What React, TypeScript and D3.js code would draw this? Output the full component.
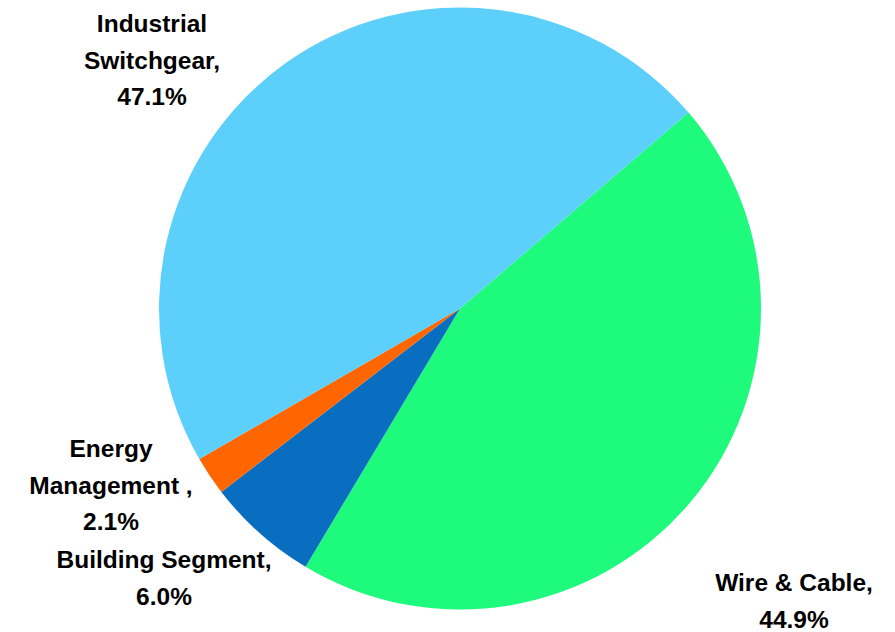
import React from "react";
import * as d3 from "d3";

const categories = ["Wire & Cable", "Building Segment", "Energy Management ", "Industrial Switchgear"];
const shares = [44.9, 6.0, 2.1, 47.1];
const colors = ["#1EFA7C", "#0A6EC0", "#FF6600", "#5CD0FA"];
// label lines and layout (anchor center x, first baseline y)
const labelLines = [
  ["Wire & Cable,", "44.9%"],
  ["Building Segment,", "6.0%"],
  ["Energy", "Management ,", "2.1%"],
  ["Industrial", "Switchgear,", "47.1%"],
];
const labelPos = [
  [794, 591],
  [164, 568],
  [111, 457],
  [152, 32],
];

const W = 895;
const H = 632;
const cx = 460;
const cy = 308.5;
const R = 301;
const startDeg = 49.4;

export default function App() {
  const data = categories.map((c, i) => ({ c, v: shares[i], i }));
  const total = d3.sum(shares);
  const start = (startDeg * Math.PI) / 180;
  const pie = d3
    .pie<any>()
    .value((d) => d.v)
    .sort(null)
    .startAngle(start)
    .endAngle(start + 2 * Math.PI * (total / 100));
  const arc = d3.arc<any>().innerRadius(0).outerRadius(R);
  const arcs = pie(data);
  return (
    <svg width={W} height={H} style={{ position: "absolute", left: 0, top: 0 }}>
      <rect width={W} height={H} fill="#fff" />
      <g transform={`translate(${cx},${cy})`}>
        {arcs.map((a, i) => (
          <path key={i} d={arc(a) as string} fill={colors[i]} />
        ))}
      </g>
      {labelLines.map((lines, i) => (
        <text
          key={i}
          textAnchor="middle"
          fontFamily="'Liberation Sans', Arial, sans-serif"
          fontWeight="bold"
          fontSize={24.5}
          fill="#000"
        >
          {lines.map((l, j) => (
            <tspan key={j} x={labelPos[i][0]} y={labelPos[i][1] + j * 36.5}>
              {l}
            </tspan>
          ))}
        </text>
      ))}
    </svg>
  );
}
